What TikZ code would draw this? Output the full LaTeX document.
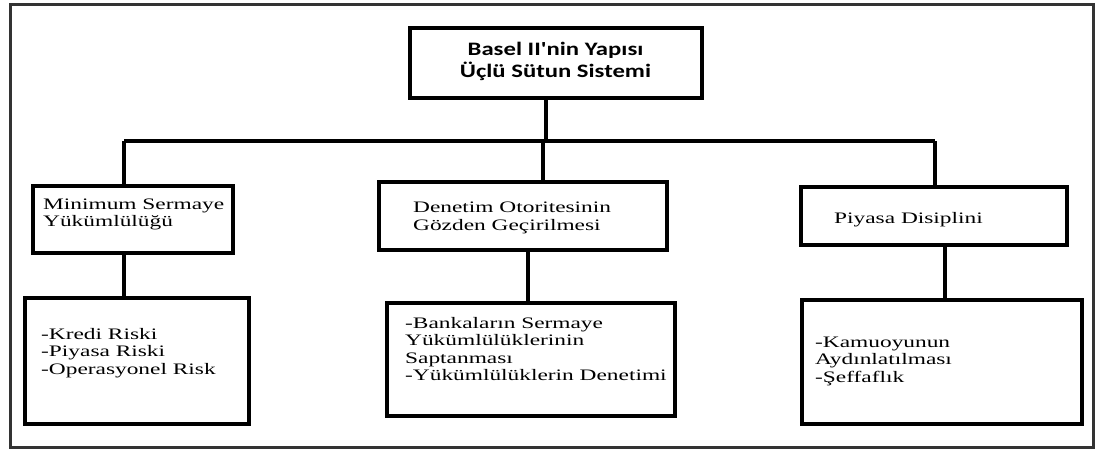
\documentclass[tikz,border=0pt]{standalone}
\usepackage{fontspec}
\setmainfont{Liberation Serif}[FakeStretch=1.46]
\newfontfamily\hdfont{Carlito}[FakeStretch=1.3]
\begin{document}
\begin{tikzpicture}[x=1pt,y=-1pt,
  box/.style={draw=black, line width=4.8pt, rectangle, inner sep=0pt},
  frame/.style={draw=black!80, line width=3pt, rectangle, inner sep=0pt},
  conn/.style={draw=black, line width=4.3pt},
  lbl/.style={inner sep=0pt, align=left, anchor=base west, text=black,
    font=\fontsize{16pt}{17.5pt}\selectfont},
  hd/.style={inner sep=0pt, align=center, anchor=base, text=black,
    font=\hdfont\bfseries\fontsize{19pt}{21.5pt}\selectfont}]
\useasboundingbox (0,0) rectangle (1096,452);
\node[frame, minimum width=1082.5pt, minimum height=442pt] (frame) at (551.75,226) {};
% boxes
\node[box, minimum width=292pt, minimum height=70pt] (top) at (556,63) {};
\node[box, minimum width=200pt, minimum height=67pt] (b1) at (133,219.5) {};
\node[box, minimum width=288pt, minimum height=68pt] (b2) at (523,216) {};
\node[box, minimum width=266pt, minimum height=58pt] (b3) at (934,216) {};
\node[box, minimum width=224pt, minimum height=126pt] (c1) at (137,361) {};
\node[box, minimum width=288pt, minimum height=113pt] (c2) at (531,359.5) {};
\node[box, minimum width=280pt, minimum height=124pt] (c3) at (942,362) {};
% texts (anchor = baseline of the last line)
\node[hd] (ttop) at (555.5,77.5) {Basel II'nin Yapısı\\Üçlü Sütun Sistemi};
\node[lbl] (tb1) at (43,226.5) {Minimum Sermaye\\Yükümlülüğü};
\node[lbl] (tb2) at (413,230) {Denetim Otoritesinin\\Gözden Geçirilmesi};
\node[lbl] (tb3) at (834,223) {Piyasa Disiplini};
\node[lbl] (tc1) at (41,374) {-Kredi Riski\\-Piyasa Riski\\-Operasyonel Risk};
\node[lbl] (tc2) at (405,380.5) {-Bankaların Sermaye\\Yükümlülüklerinin\\Saptanması\\-Yükümlülüklerin Denetimi};
\node[lbl] (tc3) at (815,382) {-Kamuoyunun\\Aydınlatılması\\-Şeffaflık};
% connectors
\coordinate (bus) at (546,141);
\coordinate (col1) at (124,0);
\coordinate (col2) at (543,0);
\coordinate (col3) at (935,0);
\coordinate (low1) at (124,0);
\coordinate (low2) at (528,0);
\coordinate (low3) at (945,0);
\draw[conn] (top.south -| bus) -- (bus);
\draw[conn] (bus -| col1) -- (bus -| col3);
\draw[conn] (bus -| col1) -- (b1.north -| col1);
\draw[conn] (bus -| col2) -- (b2.north -| col2);
\draw[conn] (bus -| col3) -- (b3.north -| col3);
\draw[conn] (b1.south -| low1) -- (c1.north -| low1);
\draw[conn] (b2.south -| low2) -- (c2.north -| low2);
\draw[conn] (b3.south -| low3) -- (c3.north -| low3);
\end{tikzpicture}
\end{document}
